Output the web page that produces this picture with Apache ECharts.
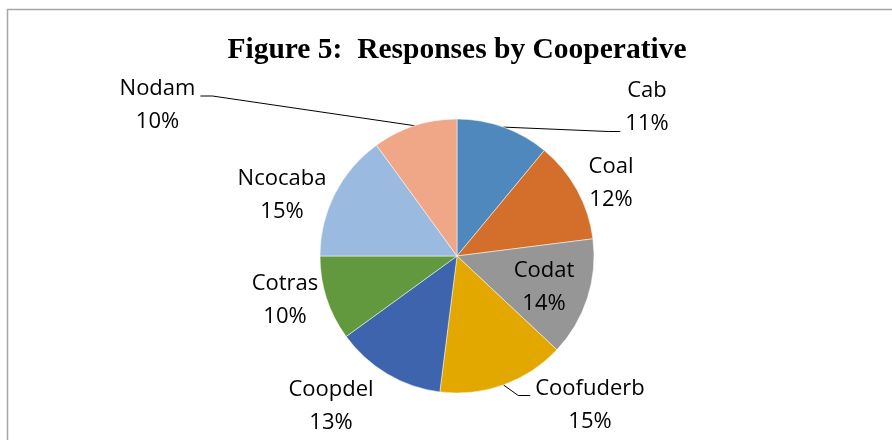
<!DOCTYPE html>
<html>
<head>
<meta charset="utf-8">
<script src="https://cdn.jsdelivr.net/npm/echarts@6/dist/echarts.min.js"></script>
<style>
  html, body { margin: 0; padding: 0; background: #fff; }
  #chart { width: 892px; height: 440px; }
</style>
</head>
<body>
<div id="chart"></div>
<script>
// Survey responses, share per cooperative (%)
const cooperatives = ['Cab', 'Coal', 'Codat', 'Coofuderb', 'Coopdel', 'Cotras', 'Ncocaba', 'Nodam'];
const responseShares = [11, 12, 14, 15, 13, 10, 15, 10];
const sliceColors = ['#4f88bd', '#d36f2b', '#969696', '#e2a800', '#3d64ad', '#62993e', '#9abadf', '#f0a788'];

// Where each label block sits (px), and which side a leader line leaves from
const labelSpots = [
  { x: 647, y: 107.5, leader: 'left', dy: 24 },
  { x: 611, y: 183.5 },
  { x: 544, y: 287 },
  { x: 590, y: 405.5, leader: 'left', dy: -10 },
  { x: 331, y: 406.5 },
  { x: 285, y: 300 },
  { x: 282, y: 195 },
  { x: 157.5, y: 105.5, leader: 'right', dy: -9.5 }
];

const chart = echarts.init(document.getElementById('chart'), null, { renderer: 'canvas' });

const pieData = cooperatives.map(function (name, i) {
  return {
    name: name,
    value: responseShares[i],
    itemStyle: { color: sliceColors[i] },
    labelLine: { show: !!labelSpots[i].leader }
  };
});

chart.setOption({
  animation: false,
  backgroundColor: '#fff',
  title: {
    text: 'Figure 5:  Responses by Cooperative',
    left: 457,
    top: 35,
    padding: 0,
    textAlign: 'center',
    textStyle: {
      fontFamily: 'Liberation Serif',
      fontWeight: 'bold',
      fontSize: 29.5,
      color: '#000'
    }
  },
  graphic: [{
    type: 'rect',
    silent: true,
    shape: { x: 7.5, y: 9.5, width: 2000, height: 2000 },
    style: { fill: 'none', stroke: '#a6a6a6', lineWidth: 1.5 }
  }],
  series: [{
    type: 'pie',
    center: [457, 256],
    radius: 137,
    startAngle: 90,
    clockwise: true,
    percentPrecision: 0,
    avoidLabelOverlap: false,
    silent: true,
    itemStyle: { borderColor: '#fff', borderWidth: 0.5 },
    label: {
      show: true,
      position: 'outside',
      formatter: '{b}\n{d}%',
      fontFamily: 'Open Sans',
      fontSize: 22,
      lineHeight: 33,
      color: '#000'
    },
    labelLine: {
      length: 10,
      length2: 10,
      smooth: false,
      lineStyle: { color: '#000', width: 1 }
    },
    labelLayout: function (p) {
      const spot = labelSpots[p.dataIndex];
      const out = { x: spot.x, y: spot.y, align: 'center', verticalAlign: 'middle' };
      if (spot.leader && p.labelLinePoints) {
        const dir = spot.leader === 'left' ? -1 : 1;
        const ex = spot.x + dir * (p.labelRect.width / 2 + 5);
        const ey = spot.y + spot.dy;
        out.labelLinePoints = [p.labelLinePoints[0], [ex + dir * 12, ey], [ex, ey]];
      }
      return out;
    },
    data: pieData
  }]
});
</script>
</body>
</html>
